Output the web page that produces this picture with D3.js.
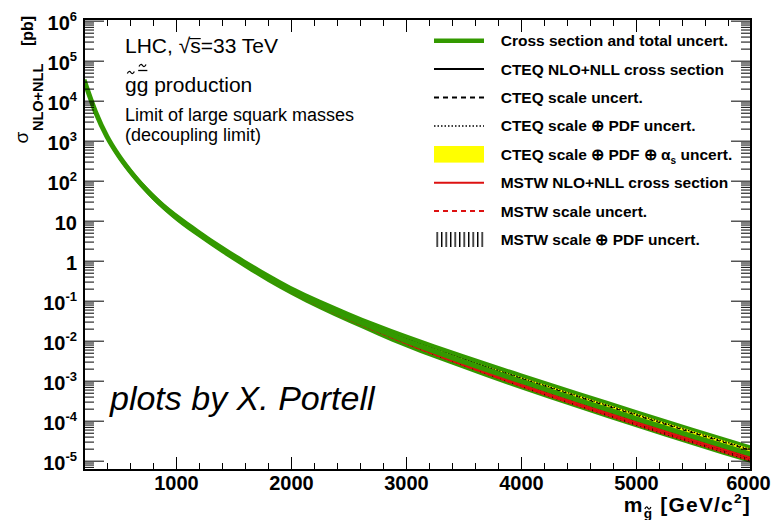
<!DOCTYPE html>
<html>
<head>
<meta charset="utf-8">
<script src="https://d3js.org/d3.v7.min.js"></script>
<style>
  body { margin: 0; background: #fff; }
  svg { display: block; font-family: "Liberation Sans", Arial, Helvetica, sans-serif; }
</style>
</head>
<body>
<svg id="chart" width="780" height="520"></svg>
<script>
// gluino pair production, NLO+NLL, LHC 33 TeV
var masses = [200, 300, 400, 500, 600, 700, 800, 900, 1000, 1200, 1400, 1600, 1800,
              2000, 2250, 2500, 2750, 3000, 3500, 4000, 4500, 5000, 5500, 6000];

// combined cross section [pb] and total uncertainty [%]
var combinedXsec = [3.31e4, 5.25e3, 1.26e3, 427, 174, 79.4, 39.8, 21.4, 12.4, 4.73, 1.93, 0.834, 0.378,
                    0.181, 0.0807, 0.0382, 0.0191, 9.93e-3, 3.00e-3, 9.70e-4, 3.25e-4, 1.13e-4, 4.00e-5, 1.45e-5];
var totalUpPct   = [20, 20, 21, 21, 22, 22, 23, 24, 25, 26, 26, 27, 28, 29, 32, 36, 40, 45, 52, 58, 62, 64, 65, 66];
var totalDownPct = [17, 17, 17, 17, 18, 18, 19, 19, 20, 20, 21, 21, 22, 22, 24, 26, 28, 31, 34, 37, 38, 39, 40, 40];

// CTEQ
var cteqXsec = [3.31e4, 5.25e3, 1.26e3, 427, 174, 79.4, 39.8, 21.4, 12.4, 4.73, 1.93, 0.834, 0.378,
                0.183, 0.0817, 0.0391, 0.0196, 0.0102, 3.10e-3, 1.00e-3, 3.40e-4, 1.18e-4, 4.19e-5, 1.52e-5];
var cteqScalePct = [3, 3, 3, 3, 3, 3, 3, 3, 3, 3, 4, 4, 4, 4, 5, 5, 5, 6, 8, 13, 15, 16, 17, 18];
var cteqPdfPct   = [4, 4, 4, 4, 4, 4, 4, 4, 4, 4, 5, 5, 5, 6, 6, 7, 7, 8, 11, 18, 21, 23, 24, 25];
var cteqAlphaPct = [5, 5, 5, 5, 5, 5, 5, 5, 5, 5, 6, 6, 6, 7, 7, 8, 8, 9, 13, 22, 26, 28, 30, 31];

// MSTW
var mstwXsec = [3.31e4, 5.25e3, 1.26e3, 427, 174, 79.4, 39.8, 21.4, 12.3, 4.62, 1.88, 0.805, 0.361,
                0.171, 0.0753, 0.0352, 0.0175, 8.85e-3, 2.55e-3, 7.89e-4, 2.61e-4, 9.06e-5, 3.25e-5, 1.18e-5];
var mstwScalePct = [3, 3, 3, 3, 3, 3, 3, 3, 3, 3, 3, 4, 4, 4, 4, 4, 5, 5, 6, 8, 9, 9, 10, 10];
var mstwPdfPct   = [4, 4, 4, 4, 4, 4, 4, 4, 4, 4, 4, 5, 5, 5, 5, 6, 7, 8, 10, 13, 15, 17, 19, 20];

// axis ranges
var massRange = [200, 6000];
var xsecRange = [5.85e-6, 1.1e6];

var legendLabels = [
    "Cross section and total uncert.",
    "CTEQ NLO+NLL cross section",
    "CTEQ scale uncert.",
    "CTEQ scale \u2295 PDF uncert.",
    "CTEQ scale \u2295 PDF \u2295 \u03b1_{s} uncert.",
    "MSTW NLO+NLL cross section",
    "MSTW scale uncert.",
    "MSTW scale \u2295 PDF uncert."
];

(function () {
    var GREEN = "#339900", YELLOW = "#ffff00", RED = "#dd1111";
    var frame = {left: 84, right: 751, top: 19, bottom: 470};

    var svg = d3.select("#chart");
    svg.append("rect").attr("width", 780).attr("height", 520).attr("fill", "#fff");

    var x = d3.scaleLinear().domain(massRange).range([frame.left, frame.right]);
    var y = d3.scaleLog().domain(xsecRange).range([frame.bottom, frame.top]);

    var defs = svg.append("defs");
    defs.append("clipPath").attr("id", "frameClip")
        .append("rect")
        .attr("x", frame.left).attr("y", frame.top)
        .attr("width", frame.right - frame.left).attr("height", frame.bottom - frame.top);

    // MSTW hatch inside the plot (red with dark stripes)
    var hatch = defs.append("pattern").attr("id", "mstwHatch")
        .attr("patternUnits", "userSpaceOnUse").attr("width", 4).attr("height", 8);
    hatch.append("rect").attr("width", 4).attr("height", 8).attr("fill", RED);
    hatch.append("rect").attr("width", 1.2).attr("height", 8).attr("fill", "#5a0000");

    // legend hatch (black vertical lines)
    var lhatch = defs.append("pattern").attr("id", "legendHatch")
        .attr("patternUnits", "userSpaceOnUse").attr("width", 4.5).attr("height", 8);
    lhatch.append("rect").attr("width", 1.4).attr("height", 8).attr("fill", "#000");

    function scaled(vals, pct, sign) {
        return vals.map(function (v, i) { return v * (1 + sign * pct[i] / 100); });
    }

    function bandPath(lo, hi) {
        return d3.area()
            .x(function (d, i) { return x(masses[i]); })
            .y0(function (d, i) { return y(lo[i]); })
            .y1(function (d, i) { return y(hi[i]); })
            .curve(d3.curveMonotoneX)(masses);
    }

    function linePath(vals) {
        return d3.line()
            .x(function (d, i) { return x(masses[i]); })
            .y(function (d, i) { return y(vals[i]); })
            .curve(d3.curveMonotoneX)(masses);
    }

    var plot = svg.append("g").attr("clip-path", "url(#frameClip)");

    // total uncertainty band
    plot.append("path")
        .attr("d", bandPath(scaled(combinedXsec, totalDownPct, -1), scaled(combinedXsec, totalUpPct, 1)))
        .attr("fill", GREEN);

    // CTEQ scale+PDF+alpha_s band
    plot.append("path")
        .attr("d", bandPath(scaled(cteqXsec, cteqAlphaPct, -1), scaled(cteqXsec, cteqAlphaPct, 1)))
        .attr("fill", YELLOW);

    // MSTW scale+PDF band
    plot.append("path")
        .attr("d", bandPath(scaled(mstwXsec, mstwPdfPct, -1), scaled(mstwXsec, mstwPdfPct, 1)))
        .attr("fill", "url(#mstwHatch)");

    function addLine(vals, color, w, dash) {
        plot.append("path")
            .attr("d", linePath(vals))
            .attr("fill", "none")
            .attr("stroke", color)
            .attr("stroke-width", w)
            .attr("stroke-dasharray", dash || null);
    }

    [-1, 1].forEach(function (s) {
        addLine(scaled(cteqXsec, cteqPdfPct, s), "#000", 1.2, "1.5,1.5");
        addLine(scaled(cteqXsec, cteqScalePct, s), "#000", 1.2, "4,3");
        addLine(scaled(mstwXsec, mstwScalePct, s), RED, 1.5, "4,3");
    });
    addLine(cteqXsec, "#000", 1.5);
    addLine(mstwXsec, RED, 2);
    // combined central value on top
    addLine(combinedXsec, GREEN, 5);

    // ---- axes (ROOT style, ticks inside on all four sides)
    var xTicks = x.ticks(30);
    var xMajor = xTicks.filter(function (v) { return v % 1000 === 0; });
    var xMinor = xTicks.filter(function (v) { return v % 1000 !== 0; });
    var yTicks = y.ticks(20);
    var isDecade = function (v) { var l = Math.log10(v); return Math.abs(l - Math.round(l)) < 1e-9; };
    var yMajor = yTicks.filter(isDecade);
    var yMinor = yTicks.filter(function (v) { return !isDecade(v); });

    function drawAxis(axis, tx, ty) {
        var g = svg.append("g")
            .attr("transform", "translate(" + tx + "," + ty + ")")
            .call(axis);
        g.select(".domain").remove();
        g.selectAll("line").attr("stroke", "#000").attr("stroke-width", 1);
        return g;
    }

    var xAxis = drawAxis(d3.axisBottom(x).tickValues(xMajor).tickSize(-13).tickPadding(6)
        .tickFormat(d3.format("d")), 0, frame.bottom);
    xAxis.selectAll("text")
        .style("font-family", '"Liberation Sans", Arial, sans-serif')
        .style("font-size", "20px").style("font-weight", "bold").attr("fill", "#000");
    // ROOT pulls the last label inside a bit
    xAxis.selectAll("text").filter(function (d) { return d === massRange[1]; }).attr("x", -3);
    drawAxis(d3.axisBottom(x).tickValues(xMinor).tickSize(-7).tickFormat(""), 0, frame.bottom);
    drawAxis(d3.axisTop(x).tickValues(xMajor).tickSize(-13).tickFormat(""), 0, frame.top);
    drawAxis(d3.axisTop(x).tickValues(xMinor).tickSize(-7).tickFormat(""), 0, frame.top);
    drawAxis(d3.axisLeft(y).tickValues(yMajor).tickSize(-20).tickFormat(""), frame.left, 0);
    drawAxis(d3.axisLeft(y).tickValues(yMinor).tickSize(-10).tickFormat(""), frame.left, 0);
    drawAxis(d3.axisRight(y).tickValues(yMajor).tickSize(-20).tickFormat(""), frame.right, 0);
    drawAxis(d3.axisRight(y).tickValues(yMinor).tickSize(-10).tickFormat(""), frame.right, 0);

    svg.append("rect")
        .attr("x", frame.left).attr("y", frame.top)
        .attr("width", frame.right - frame.left).attr("height", frame.bottom - frame.top)
        .attr("fill", "none").attr("stroke", "#000").attr("stroke-width", 2);

    // simple latex-ish: _{..} subscript, ^{..} superscript
    function addRich(sel, str, size) {
        var re = /([_^])\{([^}]*)\}/g, last = 0, shift = 0, m;
        function piece(txt, dy, fs) {
            sel.append("tspan").attr("dy", dy).style("font-size", fs + "px").text(txt);
        }
        while ((m = re.exec(str)) !== null) {
            if (m.index > last) { piece(str.slice(last, m.index), -shift, size); shift = 0; }
            var s = m[1] === "_" ? 0.3 * size : -0.45 * size;
            piece(m[2], s - shift, size * 0.65);
            shift = s;
            last = re.lastIndex;
        }
        if (last < str.length) piece(str.slice(last), -shift, size);
        return sel;
    }

    // y tick labels
    yMajor.forEach(function (v) {
        var k = Math.round(Math.log10(v));
        var label = k === 0 ? "1" : (k === 1 ? "10" : "10^{" + k + "}");
        var t = svg.append("text")
            .attr("x", 77).attr("y", y(v) + 9.5)
            .attr("text-anchor", "end").attr("font-weight", "bold");
        addRich(t, label, 20);
    });

    // x axis title
    var xTitle = svg.append("text")
        .attr("x", frame.right).attr("y", 512)
        .attr("text-anchor", "end").attr("font-weight", "bold")
        .attr("letter-spacing", 1.2);
    addRich(xTitle, "m_{g}  [GeV/c^{2}]", 21);

    function tilde(cx, cy, w) {
        var p = d3.path();
        p.moveTo(cx - w / 2, cy + 1);
        p.quadraticCurveTo(cx - w / 4, cy - 2.5, cx, cy);
        p.quadraticCurveTo(cx + w / 4, cy + 2.5, cx + w / 2, cy - 1);
        svg.append("path").attr("d", p.toString())
            .attr("fill", "none").attr("stroke", "#000").attr("stroke-width", 1.3);
    }

    var gx = xTitle.node().getExtentOfChar(1);
    tilde(gx.x + gx.width / 2 - 0.6, 508, 6);

    // y axis title, rotated
    function rotText(bx, by, str, size, weight) {
        return svg.append("text")
            .attr("transform", "translate(" + bx + "," + by + ") rotate(-90)")
            .attr("font-size", size).attr("font-weight", weight)
            .text(str);
    }
    rotText(27.5, 143.5, "\u03c3", 19, "normal");
    rotText(42.5, 131, "NLO+NLL", 14.5, "bold");
    rotText(33, 46, "[pb]", 16, "bold");

    // process text
    var lhc = svg.append("text").attr("x", 125).attr("y", 52.7).attr("font-size", 21)
        .text("LHC, \u221as=33 TeV");
    var sq = lhc.node().getExtentOfChar(5), sx = lhc.node().getExtentOfChar(6);
    svg.append("line")
        .attr("x1", sq.x + sq.width - 1).attr("x2", sx.x + sx.width)
        .attr("y1", 38.6).attr("y2", 38.6)
        .attr("stroke", "#000").attr("stroke-width", 1.2);

    var proc = svg.append("text").attr("x", 125).attr("y", 91.5).attr("font-size", 21)
        .text("gg production");
    var g1 = proc.node().getExtentOfChar(0), g2 = proc.node().getExtentOfChar(1);
    tilde(g1.x + g1.width / 2, 72.5, 7);
    svg.append("line")
        .attr("x1", g2.x + 1.5).attr("x2", g2.x + g2.width - 1)
        .attr("y1", 70.5).attr("y2", 70.5)
        .attr("stroke", "#000").attr("stroke-width", 1.3);
    tilde(g2.x + g2.width / 2, 65.5, 7);

    svg.append("text").attr("x", 125).attr("y", 120.5).attr("font-size", 18)
        .text("Limit of large squark masses");
    svg.append("text").attr("x", 125).attr("y", 140.5).attr("font-size", 18)
        .text("(decoupling limit)");

    // ---- legend
    var legX0 = 434, legX1 = 484, legTextX = 500.7, legY0 = 40.7, legStep = 28.4;
    legendLabels.forEach(function (lab, i) {
        var cy = legY0 + i * legStep;
        var g = svg.append("g");
        function seg(color, w, dash) {
            g.append("line").attr("x1", legX0).attr("x2", legX1).attr("y1", cy).attr("y2", cy)
                .attr("stroke", color).attr("stroke-width", w).attr("stroke-dasharray", dash || null);
        }
        if (i === 0) seg(GREEN, 4.5);
        if (i === 1) seg("#000", 2);
        if (i === 2) seg("#000", 2, "5,4");
        if (i === 3) seg("#000", 1.5, "1.5,2");
        if (i === 4) g.append("rect").attr("x", legX0).attr("y", cy - 8.3)
            .attr("width", legX1 - legX0).attr("height", 16.6).attr("fill", YELLOW);
        if (i === 5) seg(RED, 2);
        if (i === 6) seg(RED, 2, "5,4");
        if (i === 7) g.append("rect").attr("x", legX0).attr("y", cy - 7.5)
            .attr("width", legX1 - legX0 + 1).attr("height", 15).attr("fill", "url(#legendHatch)");
        var t = g.append("text").attr("x", legTextX).attr("y", cy + 5.5).attr("font-weight", "bold");
        addRich(t, lab, 15.5);
    });

    // watermark
    svg.append("text").attr("x", 110).attr("y", 410)
        .attr("font-size", 34).attr("font-style", "italic")
        .text("plots by X. Portell");
})();
</script>
</body>
</html>
